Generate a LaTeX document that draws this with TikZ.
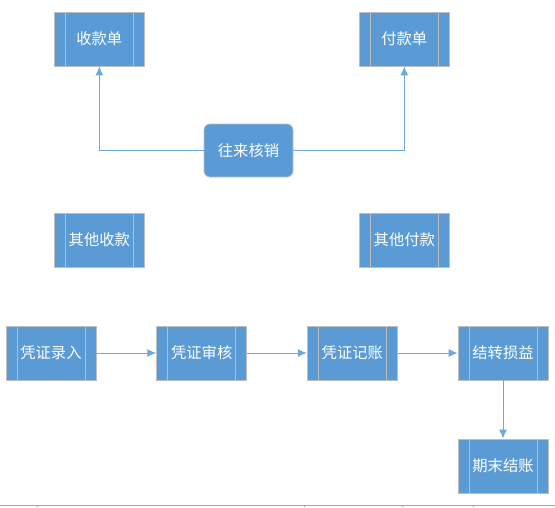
\documentclass[tikz,border=0pt]{standalone}
\usepackage{fontspec}
\setmainfont{Noto Sans CJK SC}
\usepackage{tikz}
\usetikzlibrary{arrows.meta}

\definecolor{boxfill}{HTML}{5B9BD5}
\definecolor{boxedge}{HTML}{BDBDBD}
\definecolor{flowline}{HTML}{6FA8DC}

\begin{document}
\begin{tikzpicture}[x=1pt,y=-1pt,
	font=\fontsize{15.3}{18}\selectfont,
	proc/.style={shape=rectangle,draw=boxedge,line width=0.8pt,fill=boxfill,text=white,
		minimum width=90pt,minimum height=54pt,inner sep=0pt,
		path picture={
			\draw[boxedge,line width=0.8pt] ([xshift=11pt]path picture bounding box.north west) -- ([xshift=11pt]path picture bounding box.south west);
			\draw[boxedge,line width=0.8pt] ([xshift=-11pt]path picture bounding box.north east) -- ([xshift=-11pt]path picture bounding box.south east);
		}},
	hub/.style={shape=rectangle,rounded corners=6pt,draw=boxedge,line width=0.8pt,fill=boxfill,text=white,
		minimum width=89pt,minimum height=53pt,inner sep=0pt},
	flow/.style={draw=flowline,line width=1pt,-{Latex[length=9pt,width=8pt]}}]
	\useasboundingbox (0,0) rectangle (555,507);

	\node[proc] (sk) at (99.3, 39)     {收款单};
	\node[proc] (fk) at (404.3, 39)    {付款单};
	\node[hub]  (wl) at (248.5, 150.5) {往来核销};
	\node[proc] (qs) at (99.3, 240)    {其他收款};
	\node[proc] (qf) at (404.3, 240)   {其他付款};
	\node[proc] (lr) at (51, 353)      {凭证录入};
	\node[proc] (sh) at (201.7, 353)   {凭证审核};
	\node[proc] (jz) at (352.3, 353)   {凭证记账};
	\node[proc] (sy) at (503, 353)     {结转损益};
	\node[proc] (jj) at (503, 466)     {期末结账};

	\draw[flow] (wl.west) -| (sk.south);
	\draw[flow] (wl.east) -| (fk.south);
	\draw[flow] (lr) -- (sh);
	\draw[flow] (sh) -- (jz);
	\draw[flow] (jz) -- (sy);
	\draw[flow] (sy) -- (jj);

	% grid line at the foot
	\draw[gray!70,line width=0.8pt] (0,505) -- (555,505);
	\foreach \t in {37,304,402,473}
		\draw[gray!70,line width=0.6pt] (\t,505) -- (\t,507);
\end{tikzpicture}
\end{document}
